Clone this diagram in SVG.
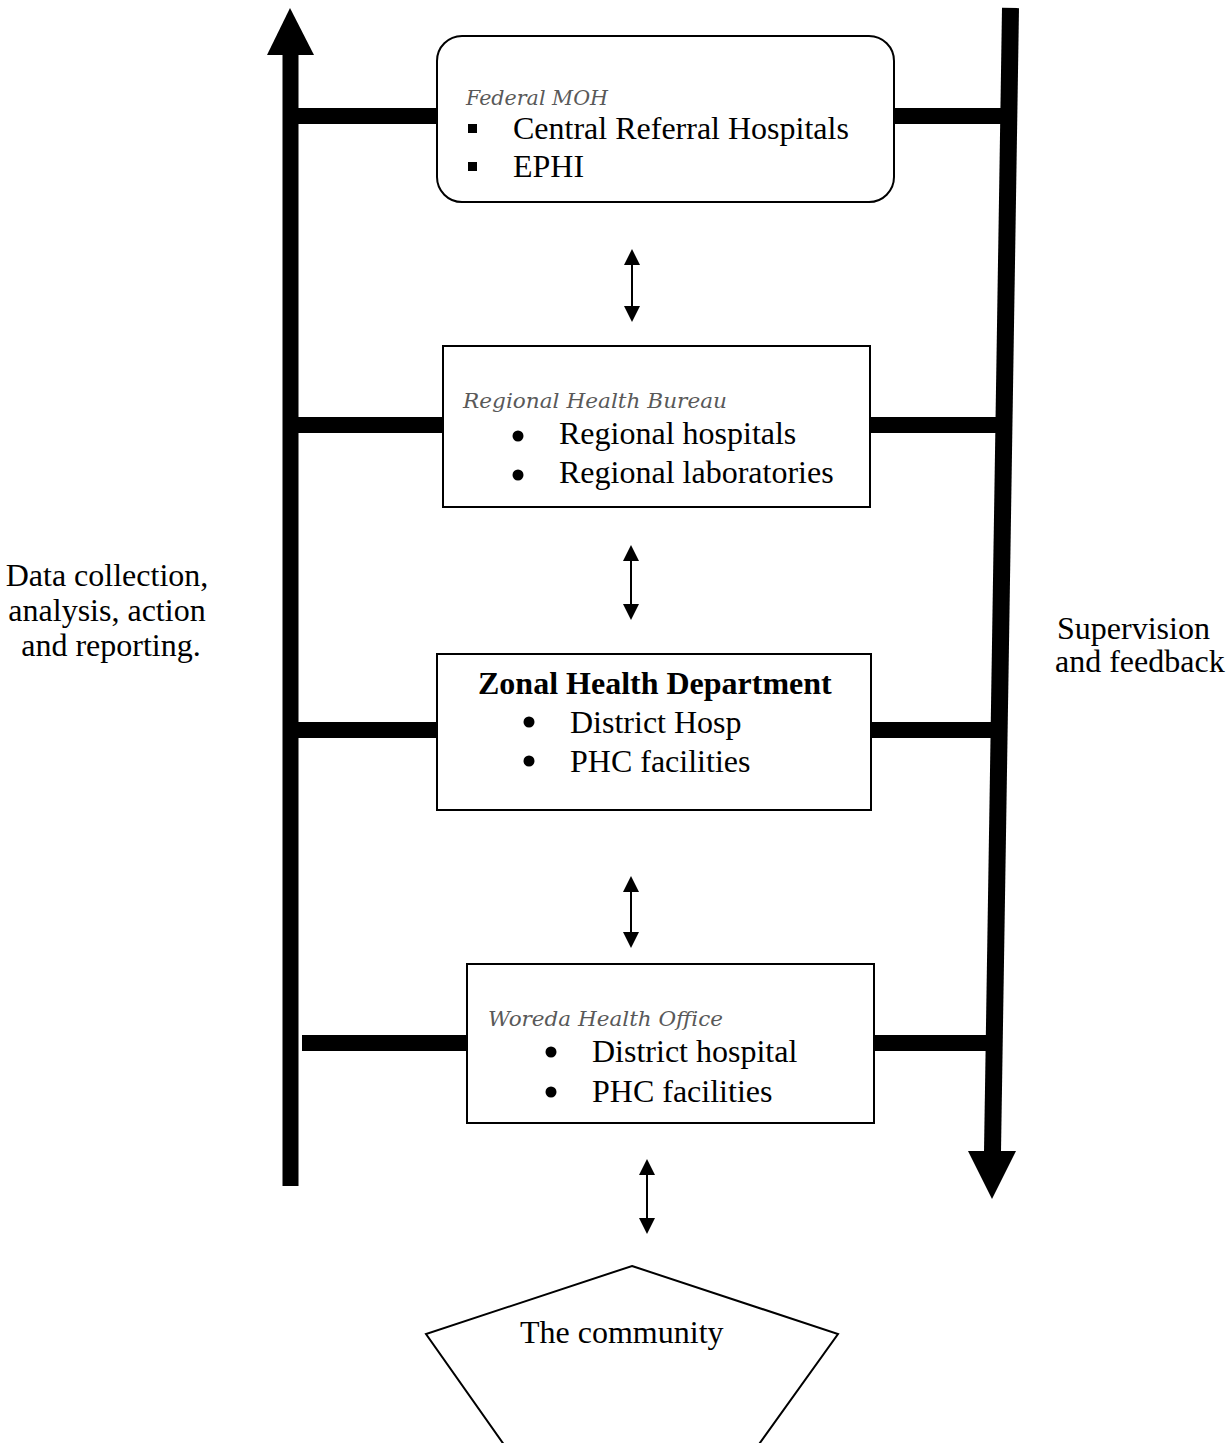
<svg xmlns="http://www.w3.org/2000/svg" width="1230" height="1443" viewBox="0 0 1230 1443">
<style>
  .box { fill: #ffffff; stroke: #000000; stroke-width: 2; }
  .bar { stroke: #000000; stroke-width: 16; fill: none; }
  .thin { stroke: #000000; stroke-width: 2; fill: none; }
  .t { font-family: "Liberation Serif", "Times New Roman", serif; font-size: 32px; fill: #000000; }
  .b { font-weight: bold; }
  .lbl { font-family: "DejaVu Serif", "Liberation Serif", serif; font-style: italic; font-size: 20.5px; fill: #595959; }
  .head { fill: #000000; }
</style>
<defs>
  <marker id="ah" viewBox="0 0 16 16" refX="0" refY="8" markerWidth="16" markerHeight="16" markerUnits="userSpaceOnUse" orient="auto-start-reverse">
    <path d="M0,0 L16,8 L0,16 Z" fill="#000000"/>
  </marker>
</defs>
<rect width="1230" height="1443" fill="#ffffff"/>

<g id="connectors">
  <line class="bar" x1="290.5" y1="1186" x2="290.5" y2="54"/>
  <polygon class="head" points="290,8 314,55 267,55"/>
  <line class="bar" style="stroke-width:17" x1="1010.5" y1="8" x2="992.5" y2="1152"/>
  <polygon class="head" points="968,1151 1016,1151 992,1199"/>
  <line class="bar" x1="297" y1="116" x2="438" y2="116"/>
  <line class="bar" x1="297" y1="425" x2="444" y2="425"/>
  <line class="bar" x1="297" y1="730" x2="438" y2="730"/>
  <line class="bar" x1="302" y1="1043" x2="468" y2="1043"/>
  <line class="bar" x1="893" y1="116" x2="1006" y2="116"/>
  <line class="bar" x1="869" y1="425" x2="1001" y2="425"/>
  <line class="bar" x1="870" y1="730" x2="996" y2="730"/>
  <line class="bar" x1="873" y1="1043" x2="991" y2="1043"/>
  <line class="thin" x1="632" y1="265" x2="632" y2="306" marker-start="url(#ah)" marker-end="url(#ah)"/>
  <line class="thin" x1="631" y1="561" x2="631" y2="604" marker-start="url(#ah)" marker-end="url(#ah)"/>
  <line class="thin" x1="631" y1="892" x2="631" y2="932" marker-start="url(#ah)" marker-end="url(#ah)"/>
  <line class="thin" x1="647" y1="1175" x2="647" y2="1218" marker-start="url(#ah)" marker-end="url(#ah)"/>
</g>

<g id="federal">
  <rect class="box" x="437" y="36" width="457" height="166" rx="25" ry="25"/>
  <text class="lbl" x="466" y="105" textLength="142" lengthAdjust="spacingAndGlyphs">Federal MOH</text>
  <rect x="468" y="124" width="9" height="9" fill="#000000"/>
  <text class="t" x="513" y="139">Central Referral Hospitals</text>
  <rect x="468" y="162" width="9" height="9" fill="#000000"/>
  <text class="t" x="513" y="177">EPHI</text>
</g>

<g id="regional">
  <rect class="box" x="443" y="346" width="427" height="161"/>
  <text class="lbl" x="463" y="408" textLength="264" lengthAdjust="spacingAndGlyphs">Regional Health Bureau</text>
  <circle cx="518" cy="436" r="5.5" fill="#000000"/>
  <text class="t" x="559" y="444">Regional hospitals</text>
  <circle cx="518" cy="475" r="5.5" fill="#000000"/>
  <text class="t" x="559" y="483">Regional laboratories</text>
</g>

<g id="zonal">
  <rect class="box" x="437" y="654" width="434" height="156"/>
  <text class="t b" x="478" y="694">Zonal Health Department</text>
  <circle cx="529" cy="722" r="5.5" fill="#000000"/>
  <text class="t" x="570" y="733">District Hosp</text>
  <circle cx="529" cy="761" r="5.5" fill="#000000"/>
  <text class="t" x="570" y="772">PHC facilities</text>
</g>

<g id="woreda">
  <rect class="box" x="467" y="964" width="407" height="159"/>
  <text class="lbl" x="488" y="1026" textLength="235" lengthAdjust="spacingAndGlyphs">Woreda Health Office</text>
  <circle cx="551" cy="1052" r="5.5" fill="#000000"/>
  <text class="t" x="592" y="1062">District hospital</text>
  <circle cx="551" cy="1092" r="5.5" fill="#000000"/>
  <text class="t" x="592" y="1102">PHC facilities</text>
</g>

<g id="community">
  <polygon class="box" points="632,1266 838,1334 719,1500 543,1500 426,1334"/>
  <text class="t" x="520" y="1343">The community</text>
</g>

<g id="left-label">
  <text class="t" text-anchor="middle">
    <tspan x="111" y="586">Data collection,</tspan>
    <tspan x="111" y="621">analysis, action</tspan>
    <tspan x="111" y="656">and reporting.</tspan>
  </text>
</g>

<g id="right-label">
  <text class="t">
    <tspan x="1057" y="639">Supervision</tspan>
    <tspan x="1055" y="672">and feedback</tspan>
  </text>
</g>
</svg>
